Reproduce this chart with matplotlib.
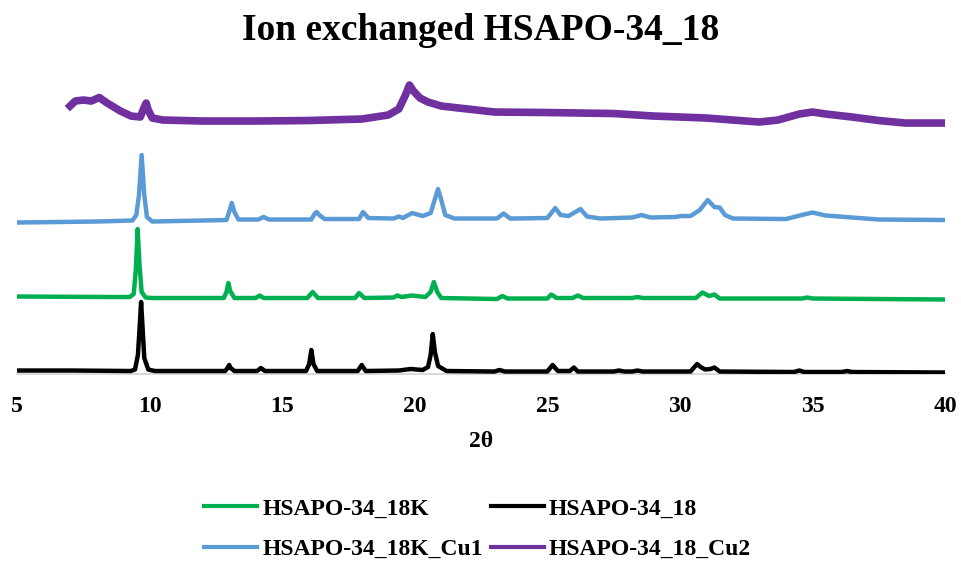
import matplotlib
matplotlib.use("Agg")
import matplotlib.pyplot as plt
from matplotlib.lines import Line2D

plt.rcParams['font.family'] = ['Liberation Serif', 'DejaVu Serif']
plt.rcParams['font.weight'] = 'bold'

# 2theta / intensity points (traces already stacked)
k_x = [5.0, 8.5, 9.25, 9.4, 9.48, 9.55, 9.62, 9.7, 9.85, 10.1, 12.8, 12.9, 12.97, 13.04, 13.2,
       14.0, 14.15, 14.3, 15.95, 16.15, 16.35, 17.75, 17.9, 18.1, 19.2, 19.35, 19.5, 19.9, 20.4,
       20.6, 20.72, 20.85, 21.0, 23.1, 23.3, 23.5, 25.0, 25.15, 25.35, 25.95, 26.15, 26.35, 28.2,
       28.4, 28.6, 30.6, 30.85, 31.1, 31.3, 31.5, 34.6, 34.8, 35.0, 40.0]
k_y = [77.5, 77, 77, 80, 104, 145, 109, 82, 76.5, 76, 76, 82, 91, 83, 76,
       76, 78.5, 76, 76, 82, 76, 76, 81, 76, 76.5, 78.5, 77, 78.5, 77,
       82, 92, 82, 76, 75, 78, 75.5, 75.5, 79.5, 76, 76, 78.5, 76, 76,
       77, 76, 76, 81.5, 78, 79.5, 75.5, 75.5, 76.5, 75.5, 74.5]

h_x = [5.0, 7.0, 9.3, 9.45, 9.56, 9.63, 9.68, 9.73, 9.8, 9.95, 10.2, 12.85, 12.94, 13.0, 13.06,
       13.2, 14.05, 14.2, 14.35, 15.9, 16.02, 16.1, 16.18, 16.32, 17.85, 18.0, 18.15, 19.4, 19.85,
       20.3, 20.5, 20.6, 20.68, 20.76, 20.88, 21.2, 23.0, 23.2, 23.4, 25.0, 25.2, 25.4, 25.85,
       26.0, 26.15, 27.5, 27.7, 27.9, 28.2, 28.4, 28.6, 30.4, 30.55, 30.65, 30.78, 30.95, 31.15,
       31.3, 31.5, 34.3, 34.5, 34.7, 36.1, 36.3, 36.5, 40.0]
h_y = [3.5, 3.5, 3, 4.5, 19, 49, 72, 49, 16, 4.5, 3, 3, 6, 9, 6,
       3, 3, 6, 3, 3, 10, 24, 10, 3, 3, 9, 3, 3.5, 5,
       4, 7, 19, 40, 22, 8, 3, 2.5, 4, 2.5, 2.5, 9, 3, 3,
       6.5, 2.5, 2.5, 3.5, 2.5, 2.5, 3.5, 2.5, 2.5, 7, 10, 7, 4.5, 5,
       6.5, 2.5, 2, 3.5, 2, 2, 3, 2, 1.5]

cu1_x = [5.0, 8.0, 9.35, 9.5, 9.6, 9.7, 9.8, 9.9, 10.1, 12.9, 13.0, 13.1, 13.2, 13.35, 14.1,
         14.3, 14.5, 16.1, 16.22, 16.3, 16.4, 16.6, 17.9, 18.05, 18.25, 19.2, 19.4, 19.55, 19.9,
         20.3, 20.6, 20.75, 20.88, 21.0, 21.15, 21.5, 23.1, 23.35, 23.6, 25.0, 25.3, 25.5, 25.8,
         26.25, 26.5, 27.0, 28.2, 28.55, 28.9, 29.8, 30.05, 30.4, 30.75, 31.05, 31.3, 31.5, 31.7,
         32.0, 34.0, 34.6, 35.0, 35.5, 36.5, 37.5, 40.0]
cu1_y = [151.5, 152.5, 153.5, 159, 179, 219, 179, 157, 152.5, 154, 162, 171, 162, 154.5, 154.5,
         157, 154.5, 154.5, 160, 162, 159, 155, 155, 162, 156, 155.5, 157.5, 156, 161,
         158, 161, 174, 185, 174, 159, 155.5, 155.5, 160.5, 155.5, 156, 166, 159, 158,
         165, 157.5, 155.5, 156.5, 159, 156.5, 157, 158, 158, 164, 174, 167, 166.5, 159,
         155.5, 155, 159, 161.5, 158.5, 156.5, 154.5, 154]

cu2_x = [7.0, 7.2, 7.5, 7.8, 8.1, 8.4, 8.9, 9.3, 9.65, 9.8, 9.87, 9.95, 10.1, 10.5, 12.0,
         14.0, 16.0, 18.0, 18.5, 19.0, 19.4, 19.65, 19.8, 19.95, 20.2, 20.5, 21.0, 22.0, 23.0,
         25.0, 27.5, 29.0, 31.0, 32.0, 33.0, 33.7, 34.5, 35.0, 35.5, 36.5, 37.5, 38.5, 40.0]
cu2_y = [268, 273, 274, 273, 276.5, 271, 263, 258, 257, 267, 271, 264, 256, 254, 253,
         253, 253.5, 255, 257, 259, 265, 279, 289, 283, 276, 272, 268, 265, 262,
         261.5, 260.5, 258, 256, 254, 252, 254, 260, 262, 260, 257, 253.5, 251, 251]

names = ['HSAPO-34_18K', 'HSAPO-34_18K_Cu1', 'HSAPO-34_18', 'HSAPO-34_18_Cu2']
colors = ['#00b050', '#5b9bd5', '#000000', '#7030a0']
xticks = [5, 10, 15, 20, 25, 30, 35, 40]

fig = plt.figure(figsize=(9.61, 5.62), dpi=100)
ax = fig.add_axes([0.0177, 0.3345, 0.9657, 0.5409])

ax.plot(k_x, k_y, color=colors[0], lw=3.2, solid_joinstyle='round')
ax.plot(cu1_x, cu1_y, color=colors[1], lw=3.2, solid_joinstyle='round')
ax.plot(h_x, h_y, color=colors[2], lw=3.2, solid_joinstyle='round')
ax.plot(cu2_x, cu2_y, color=colors[3], lw=5.5, solid_joinstyle='round')  # noisy trace -> fat band

ax.set_xlim(5, 40)
ax.set_ylim(0, 304)
ax.set_xticks(xticks)
ax.set_xticklabels([str(t) for t in xticks])
ax.set_yticks([])
for s in ['top', 'right', 'left']:
    ax.spines[s].set_visible(False)
ax.spines['bottom'].set_color('#d9d9d9')
ax.spines['bottom'].set_linewidth(1.5)
ax.spines['bottom'].set_zorder(0)
ax.tick_params(axis='x', length=0, pad=16, labelsize=17)
ax.set_xlabel('2θ', fontsize=17, fontweight='bold', labelpad=10)

fig.text(0.5, 0.945, 'Ion exchanged HSAPO-34_18', ha='center', va='center',
         fontsize=27, fontweight='bold')

handles = [Line2D([], [], color=c, lw=3) for c in colors]
fig.legend(handles, names, loc='center', bbox_to_anchor=(0.497, 0.0587), ncol=2,
           frameon=False, fontsize=17, handlelength=2.25, handletextpad=0.2,
           columnspacing=0.35, labelspacing=0.8)

plt.savefig('out.png', dpi=100)
